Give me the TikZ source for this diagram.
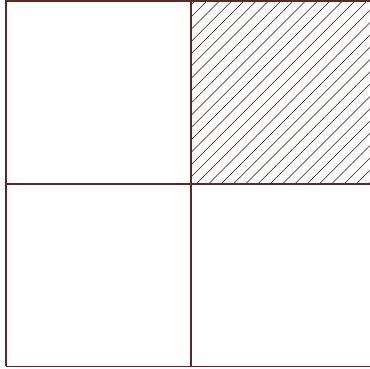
\documentclass[tikz,border=0pt]{standalone}
\usepackage{tikz}
\definecolor{gridbrown}{rgb}{0.36, 0.16, 0.16}
\tikzset{
  gridline/.style={
    line width=1.6pt,
    gridbrown
  },
  hatchline/.style={
    line width=0.55pt,
    gridbrown!55!black
  }
}

\begin{document}
\begin{tikzpicture}[x=1pt,y=1pt]
\useasboundingbox (0,0) rectangle (370,369);
\coordinate (nw) at (6,368);
\coordinate (w) at (6,185);
\coordinate (sw) at (6,2.5);
\coordinate (n) at (191,368);
\coordinate (c) at (191,185);
\coordinate (s) at (191,2.5);
\coordinate (ne) at (376,368);
\coordinate (e) at (376,185);
\coordinate (se) at (376,2.5);
% hatched cell
\begin{scope}
\clip (c) rectangle (ne);
\foreach \x in {-15,...,16}
  \draw[hatchline] (196.3+12.3*\x,185) -- ++(183,183);
\end{scope}
% grid
\draw[gridline] (sw) -- (nw) -- (ne);
\draw[gridline] (sw) -- (se);
\draw[gridline] (w) -- (e);
\draw[gridline] (s) -- (n);
\end{tikzpicture}
\end{document}
